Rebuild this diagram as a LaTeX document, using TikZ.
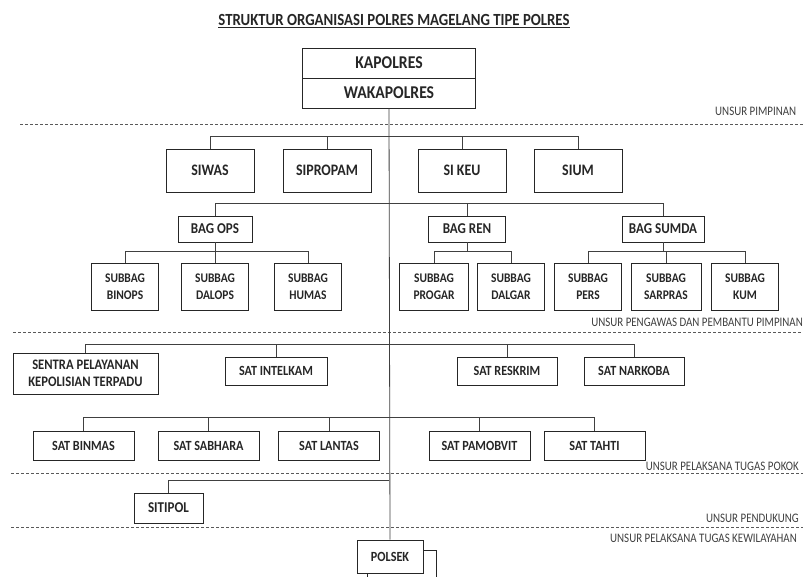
\documentclass[tikz,border=0pt]{standalone}
\usepackage{fontspec}
\setmainfont{Carlito}
\newfontfamily\boxfont{Carlito}[FakeStretch=0.87]
\newfontfamily\unsurfont{Carlito}[FakeStretch=0.84]
\usepackage{tikz}

\tikzset{
  unit/.style={draw=black!85, line width=0.9pt, fill=white, inner sep=1pt,
    align=center, text=black!85, font=\boxfont\bfseries\fontsize{14}{16}\selectfont},
  topbox/.style={unit, minimum width=173, minimum height=30,
    font=\boxfont\bfseries\fontsize{18}{20}\selectfont},
  sibox/.style={unit, minimum width=88, minimum height=43,
    font=\boxfont\bfseries\fontsize{16}{18}\selectfont},
  bagbox/.style={unit, minimum height=26, font=\boxfont\bfseries\fontsize{15}{17}\selectfont},
  subbagbox/.style={unit, minimum width=67, minimum height=47,
    font=\boxfont\bfseries\fontsize{13.2}{17}\selectfont},
  satbox/.style={unit, minimum width=101, minimum height=29},
  link/.style={draw=black!75, line width=0.8pt},
  divider/.style={draw=black!65, line width=1pt, dash pattern=on 3pt off 2pt},
  unsur/.style={inner sep=0pt, text=black!75, font=\unsurfont\fontsize{13}{15}\selectfont},
}

\begin{document}
\begin{tikzpicture}[x=1pt, y=-1pt]
  \useasboundingbox[fill=white] (0,0) rectangle (803,576);

  % 1. Title and the leadership box
  \node[text=black!85, font=\boxfont\bfseries\fontsize{17}{19}\selectfont] (judul) at (394,21)
    {\underline{STRUKTUR ORGANISASI POLRES MAGELANG TIPE POLRES}};
  \node[topbox] (kapolres) at (389,63) {KAPOLRES};
  \node[topbox] (wakapolres) at (389,93) {WAKAPOLRES};

  % 2. Section dividers and their labels
  \foreach \y/\x in {124/20, 332/13, 473/11, 527/11}
    \draw[divider] (\x,\y) -- (803,\y);
  \node[unsur, anchor=west] (lblpimpinan) at (715,111) {UNSUR PIMPINAN};
  \node[unsur, anchor=east] (lblpengawas) at (803,322) {UNSUR PENGAWAS DAN PEMBANTU PIMPINAN};
  \node[unsur, anchor=east] (lblpokok) at (799,466) {UNSUR PELAKSANA TUGAS POKOK};
  \node[unsur, anchor=east] (lblpendukung) at (799,518) {UNSUR PENDUKUNG};
  \node[unsur, anchor=east] (lblwilayah) at (797,538) {UNSUR PELAKSANA TUGAS KEWILAYAHAN};

  % 3. Bus points on the main line
  \coordinate (busSI) at (389,136);
  \coordinate (busBAG) at (389,203);
  \coordinate (busSAT1) at (389,344);
  \coordinate (busSAT2) at (389,417);
  \coordinate (busDUK) at (389,480);

  % 4. Pengawas and pembantu pimpinan
  \node[sibox] (siwas) at (210,170.5) {SIWAS};
  \node[sibox] (sipropam) at (327,170.5) {SIPROPAM};
  \node[sibox] (sikeu) at (462,170.5) {SI KEU};
  \node[sibox] (sium) at (578,170.5) {SIUM};

  \node[bagbox, minimum width=74] (bagops) at (215,229) {BAG OPS};
  \node[bagbox, minimum width=77] (bagren) at (467,229) {BAG REN};
  \node[bagbox, minimum width=82] (bagsumda) at (663,229) {BAG SUMDA};
  \coordinate (busOPS) at (215,251);
  \coordinate (busREN) at (467,251);
  \coordinate (busSUMDA) at (663,251);

  \node[subbagbox] (binops) at (125,286.5) {SUBBAG\\BINOPS};
  \node[subbagbox] (dalops) at (215,286.5) {SUBBAG\\DALOPS};
  \node[subbagbox] (humas) at (308,286.5) {SUBBAG\\HUMAS};
  \node[subbagbox, minimum width=69] (progar) at (434,286.5) {SUBBAG\\PROGAR};
  \node[subbagbox] (dalgar) at (511,286.5) {SUBBAG\\DALGAR};
  \node[subbagbox] (pers) at (588,286.5) {SUBBAG\\PERS};
  \node[subbagbox, minimum width=70] (sarpras) at (666,286.5) {SUBBAG\\SARPRAS};
  \node[subbagbox] (kum) at (745,286.5) {SUBBAG\\KUM};

  % 5. Pelaksana tugas pokok
  \node[unit, minimum width=145, minimum height=41,
    font=\boxfont\bfseries\fontsize{14.5}{16.5}\selectfont] (sentra) at (85.5,373.5)
    {SENTRA PELAYANAN\\KEPOLISIAN TERPADU};
  \node[satbox, minimum width=102, minimum height=28] (intelkam) at (276,371) {SAT INTELKAM};
  \node[satbox, minimum width=100, minimum height=28] (reskrim) at (507,371) {SAT RESKRIM};
  \node[satbox, minimum width=100, minimum height=28] (narkoba) at (634,371) {SAT NARKOBA};

  \node[satbox] (binmas) at (83.5,445.5) {SAT BINMAS};
  \node[satbox] (sabhara) at (208.5,445.5) {SAT SABHARA};
  \node[satbox] (lantas) at (329,445.5) {SAT LANTAS};
  \node[satbox] (pamobvit) at (479.5,445.5) {SAT PAMOBVIT};
  \node[satbox] (tahti) at (594.5,445.5) {SAT TAHTI};

  % 6. Pendukung and kewilayahan
  \node[unit, minimum width=69, minimum height=30, font=\boxfont\bfseries\fontsize{15}{17}\selectfont]
    (sitipol) at (168.5,508) {SITIPOL};
  \draw[draw=black!85, line width=0.9pt, fill=white] (367,590) rectangle (436,550);
  \node[unit, minimum width=66, minimum height=33, font=\boxfont\bfseries\fontsize{14}{16}\selectfont]
    (polsek) at (390,556.5) {POLSEK};

  % 7. Connectors
  \draw[link] (wakapolres.south) -- (polsek.north);
  \foreach \n in {siwas,sipropam,sikeu,sium}
    \draw[link] (\n.north) |- (busSI);
  \foreach \n in {bagops,bagren,bagsumda}
    \draw[link] (\n.north) |- (busBAG);
  \draw[link] (bagops.south) -- (busOPS);
  \draw[link] (bagren.south) -- (busREN);
  \draw[link] (bagsumda.south) -- (busSUMDA);
  \foreach \n in {binops,dalops,humas}
    \draw[link] (\n.north) |- (busOPS);
  \foreach \n in {progar,dalgar}
    \draw[link] (\n.north) |- (busREN);
  \foreach \n in {pers,sarpras,kum}
    \draw[link] (\n.north) |- (busSUMDA);
  \foreach \n in {sentra,intelkam,reskrim,narkoba}
    \draw[link] (\n.north) |- (busSAT1);
  \foreach \n in {binmas,sabhara,lantas,pamobvit,tahti}
    \draw[link] (\n.north) |- (busSAT2);
  \draw[link] (sitipol.north) |- (busDUK);
\end{tikzpicture}
\end{document}
